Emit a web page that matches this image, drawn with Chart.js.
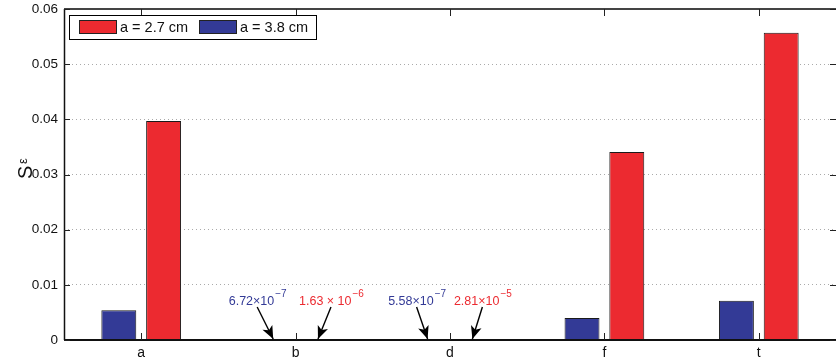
<!DOCTYPE html>
<html><head><meta charset="utf-8">
<script src="https://cdn.jsdelivr.net/npm/chart.js@4/dist/chart.umd.min.js"></script>
<style>html,body{margin:0;padding:0;background:#fff}#wrap{width:837px;height:362px}</style>
</head><body><div id="wrap"><canvas id="c" width="837" height="362"></canvas></div>
<script>
const categories = ['a', 'b', 'd', 'f', 't'];
const seriesLabels = ['a = 3.8 cm', 'a = 2.7 cm'];
const values38 = [0.0054, 6.72e-7, 5.58e-7, 0.0040, 0.0071];
const values27 = [0.0397, 1.63e-6, 2.81e-5, 0.0341, 0.0557];
const yTickLabels = ['0', '0.01', '0.02', '0.03', '0.04', '0.05', '0.06'];
// small-value annotations: category, dataset index, mantissa text, exponent
const noteCats = ['b', 'b', 'd', 'd'];
const noteSeries = [0, 1, 0, 1];
const noteMantissa = ['6.72\u00d710', '1.63 \u00d7 10', '5.58\u00d710', '2.81\u00d710'];
const noteExponent = ['\u22127', '\u22126', '\u22127', '\u22125'];

const BLUE = '#333a96', RED = '#ec2a30';
const FONT = '"Liberation Sans", Arial, sans-serif';
const noteTailDx = [-16, 13, -11, 10];

const framePlugin = {
  id: 'frame',
  afterDraw(chart) {
    const ctx = chart.ctx, a = chart.chartArea, y = chart.scales.y, x = chart.scales.x;
    ctx.save();
    // frame
    ctx.strokeStyle = '#444'; ctx.lineWidth = 2;
    ctx.beginPath(); ctx.moveTo(a.left, a.top); ctx.lineTo(a.right, a.top); ctx.stroke();
    ctx.strokeStyle = '#111'; ctx.lineWidth = 1.5;
    ctx.beginPath(); ctx.moveTo(a.left + 0.5, a.top); ctx.lineTo(a.left + 0.5, a.bottom); ctx.stroke();
    ctx.lineWidth = 2;
    ctx.beginPath(); ctx.moveTo(a.left, a.bottom); ctx.lineTo(a.right, a.bottom); ctx.stroke();
    // inward ticks
    ctx.lineWidth = 1; ctx.strokeStyle = '#222';
    y.ticks.forEach(t => {
      const py = Math.round(y.getPixelForValue(t.value)) + 0.5;
      ctx.beginPath(); ctx.moveTo(a.left, py); ctx.lineTo(a.left + 6, py); ctx.stroke();
      ctx.beginPath(); ctx.moveTo(a.right, py); ctx.lineTo(a.right - 6, py); ctx.stroke();
    });
    categories.forEach((c, i) => {
      const px = Math.round(x.getPixelForValue(i)) + 0.5;
      ctx.beginPath(); ctx.moveTo(px, a.bottom); ctx.lineTo(px, a.bottom - 7); ctx.stroke();
      ctx.beginPath(); ctx.moveTo(px, a.top); ctx.lineTo(px, a.top + 7); ctx.stroke();
    });
    // legend
    ctx.fillStyle = '#fff'; ctx.strokeStyle = '#000'; ctx.lineWidth = 1;
    ctx.fillRect(69.5, 15.5, 247, 24); ctx.strokeRect(69.5, 15.5, 247, 24);
    const items = [[RED, seriesLabels[1], 79], [BLUE, seriesLabels[0], 199]];
    ctx.font = '14.5px ' + FONT; ctx.textBaseline = 'middle'; ctx.textAlign = 'left';
    items.forEach(([col, lab, lx]) => {
      ctx.fillStyle = col; ctx.fillRect(lx + 0.5, 20.5, 37, 13);
      ctx.strokeStyle = '#222'; ctx.strokeRect(lx + 0.5, 20.5, 37, 13);
      ctx.fillStyle = '#111'; ctx.fillText(lab, lx + 41, 28);
    });
    // annotations
    const y0 = y.getPixelForValue(0);
    noteCats.forEach((c, k) => {
      const ci = categories.indexOf(c);
      const el = chart.getDatasetMeta(noteSeries[k]).data[ci];
      const tipX = el.x, tipY = y0 - 1;
      const tailX = tipX + noteTailDx[k], tailY = y0 - 33;
      ctx.strokeStyle = '#000'; ctx.fillStyle = '#000'; ctx.lineWidth = 1.4;
      ctx.beginPath(); ctx.moveTo(tailX, tailY); ctx.lineTo(tipX, tipY); ctx.stroke();
      const ang = Math.atan2(tipY - tailY, tipX - tailX);
      const L = 13, W = 5.5;
      ctx.beginPath();
      ctx.moveTo(tipX, tipY);
      ctx.lineTo(tipX - L * Math.cos(ang) + W * Math.sin(ang), tipY - L * Math.sin(ang) - W * Math.cos(ang));
      ctx.lineTo(tipX - 0.75 * L * Math.cos(ang), tipY - 0.75 * L * Math.sin(ang));
      ctx.lineTo(tipX - L * Math.cos(ang) - W * Math.sin(ang), tipY - L * Math.sin(ang) + W * Math.cos(ang));
      ctx.closePath(); ctx.fill();
      const col = noteSeries[k] === 0 ? BLUE : RED;
      ctx.font = '12.5px ' + FONT;
      const mw = ctx.measureText(noteMantissa[k]).width;
      ctx.font = '10px ' + FONT;
      const ew = ctx.measureText(noteExponent[k]).width;
      const startX = tailX - (mw + ew) / 2;
      ctx.fillStyle = col; ctx.textAlign = 'left'; ctx.textBaseline = 'alphabetic';
      ctx.font = '12.5px ' + FONT; ctx.fillText(noteMantissa[k], startX, y0 - 35);
      ctx.font = '10px ' + FONT; ctx.fillText(noteExponent[k], startX + mw + 1, y0 - 43);
    });
    // y title
    ctx.fillStyle = '#111';
    ctx.translate(32, 179); ctx.rotate(-Math.PI / 2);
    ctx.textAlign = 'left'; ctx.textBaseline = 'alphabetic';
    ctx.font = '20px ' + FONT; ctx.fillText('S', 0, 0);
    ctx.font = '13px ' + FONT; ctx.fillText('\u03b5', 15, -5);
    ctx.restore();
  }
};

new Chart(document.getElementById('c'), {
  type: 'bar',
  data: {
    labels: categories,
    datasets: [
      { label: seriesLabels[0], data: values38, backgroundColor: BLUE, borderColor: '#1a1a1a', borderWidth: 1 },
      { label: seriesLabels[1], data: values27, backgroundColor: RED, borderColor: '#1a1a1a', borderWidth: 1 }
    ]
  },
  options: {
    responsive: false, animation: false,
    layout: { padding: { top: 9, right: 1, left: 0, bottom: 0 } },
    datasets: { bar: { categoryPercentage: 0.58, barPercentage: 0.78 } },
    plugins: { legend: { display: false }, tooltip: { enabled: false } },
    scales: {
      x: {
        grid: { display: false, drawTicks: false }, border: { display: false },
        ticks: { color: '#111', font: { size: 14, family: FONT }, padding: 5 },
        afterFit(s) { s.height = 22; s.paddingLeft = 0; s.paddingRight = 0; }
      },
      y: {
        min: 0, max: 0.06,
        grid: { color: '#aaa', lineWidth: 1, drawTicks: false },
        border: { display: false, dash: [1, 3] },
        ticks: { stepSize: 0.01, color: '#111', font: { size: 13.5, family: FONT }, padding: 6,
          callback: (v, i) => yTickLabels[i] },
        afterFit(s) { s.width = 64; s.paddingTop = 0; s.paddingBottom = 0; }
      }
    }
  },
  plugins: [framePlugin]
});
</script></body></html>
